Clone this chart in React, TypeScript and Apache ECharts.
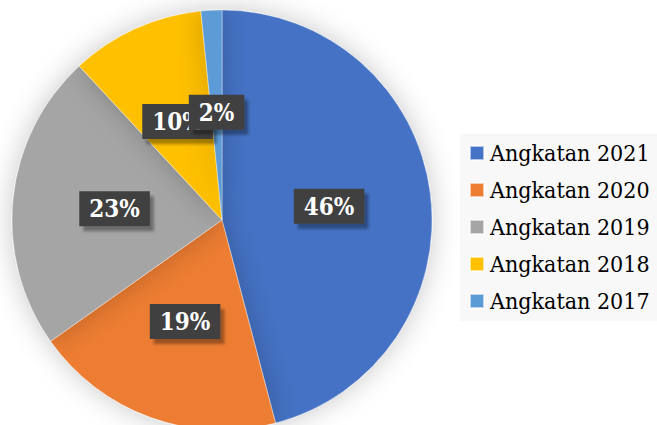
import React, { useEffect, useRef } from "react";
import * as echarts from "echarts";

const categories = ["Angkatan 2021", "Angkatan 2020", "Angkatan 2019", "Angkatan 2018", "Angkatan 2017"];
const values = [45.9, 19.3, 22.9, 10.3, 1.6];
const colors = ["#4472C4", "#ED7D31", "#A5A5A5", "#FFC000", "#5B9BD5"];

export default function App() {
  const ref = useRef<HTMLDivElement>(null);
  useEffect(() => {
    if (!ref.current) return;
    const chart = echarts.init(ref.current, null, { renderer: "svg" });
    const font = "DejaVu Serif Condensed";
    chart.setOption({
      animation: false,
      backgroundColor: "#ffffff",
      textStyle: { fontFamily: font },
      legend: {
        orient: "vertical",
        left: 460,
        top: 134,
        padding: [6, 10, 7, 9],
        backgroundColor: "#f8f8f8",
        itemWidth: 14,
        itemHeight: 14,
        itemGap: 11,
        icon: "rect",
        textStyle: { fontFamily: font, fontSize: 23, color: "#000", lineHeight: 26, padding: [0, 0, 0, 1] },
        data: categories,
      },
      series: [
        {
          type: "pie",
          center: [222, 220],
          radius: [0, 210],
          startAngle: 90,
          clockwise: true,
          avoidLabelOverlap: false,
          minShowLabelAngle: 0,
          labelLayout: { hideOverlap: false },
          itemStyle: {
            borderColor: "rgba(255,255,255,0.6)",
            borderWidth: 0.6,
            shadowBlur: 28,
            shadowColor: "rgba(0,0,0,0.22)",
          },
          label: {
            show: true,
            position: "inside",
            formatter: (p: any) => Math.round(p.percent) + "%",
            color: "#ffffff",
            fontFamily: font,
            fontWeight: "bold",
            fontSize: 24,
            backgroundColor: "#404040",
            padding: [6, 10, 5, 10],
            shadowColor: "rgba(0,0,0,0.35)",
            shadowBlur: 3,
            shadowOffsetX: 4,
            shadowOffsetY: 5,
          },
          labelLine: { show: false },
          data: categories.map((c, i) => ({ name: c, value: values[i], itemStyle: { color: colors[i] } })),
        },
      ],
    });
    return () => chart.dispose();
  }, []);
  return (
    <div
      ref={ref}
      style={{ position: "fixed", left: 0, top: 0, width: 657, height: 425 }}
    />
  );
}
